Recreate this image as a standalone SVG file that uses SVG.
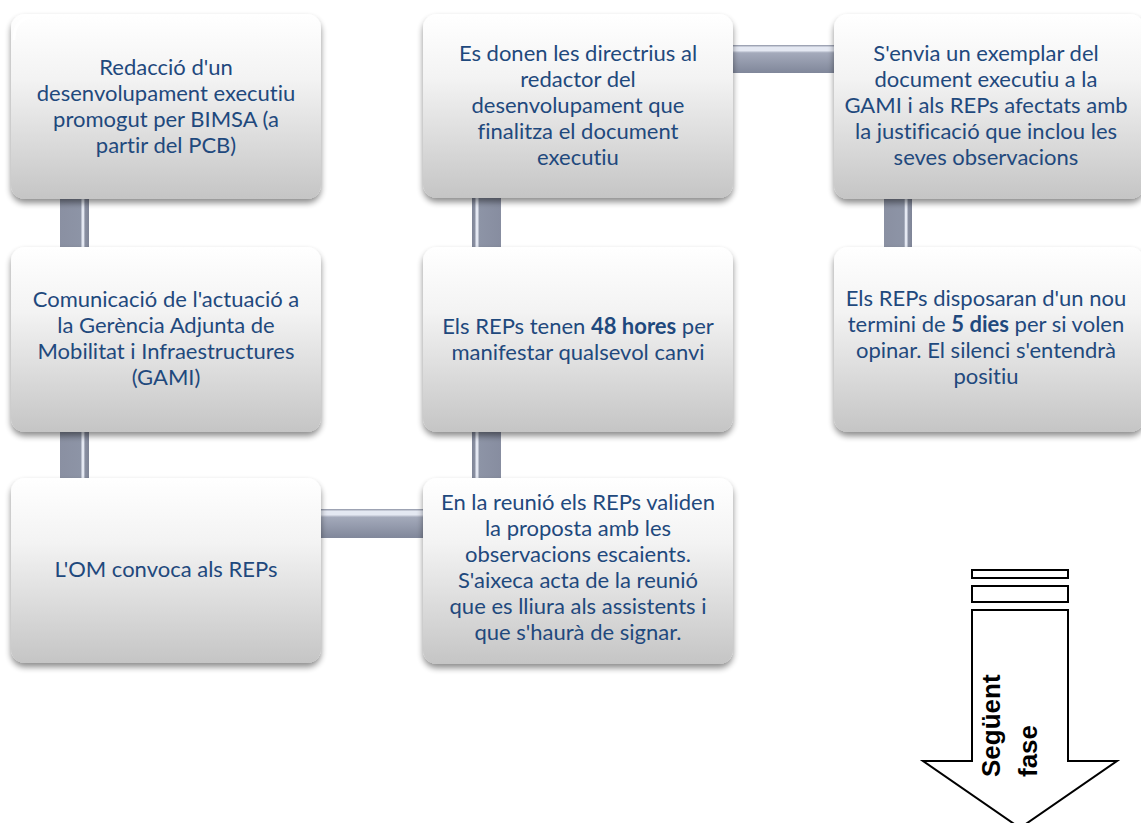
<svg xmlns="http://www.w3.org/2000/svg" width="1141" height="823" viewBox="0 0 1141 823">
<defs>
<linearGradient id="boxg" x1="0" y1="0" x2="0" y2="1">
<stop offset="0" stop-color="#ffffff"/>
<stop offset="0.35" stop-color="#f3f3f3"/>
<stop offset="1" stop-color="#c5c5c5"/>
</linearGradient>
<linearGradient id="vbarR" x1="0" y1="0" x2="1" y2="0">
<stop offset="0" stop-color="#8a90a2"/>
<stop offset="0.72" stop-color="#8d94a6"/>
<stop offset="0.76" stop-color="#e4e8f2"/>
<stop offset="0.82" stop-color="#e4e8f2"/>
<stop offset="0.86" stop-color="#8a90a2"/>
<stop offset="1" stop-color="#7e8496"/>
</linearGradient>
<linearGradient id="vbarL" x1="0" y1="0" x2="1" y2="0">
<stop offset="0" stop-color="#7e8496"/>
<stop offset="0.1" stop-color="#8a90a2"/>
<stop offset="0.14" stop-color="#e4e8f2"/>
<stop offset="0.2" stop-color="#e4e8f2"/>
<stop offset="0.25" stop-color="#8d94a6"/>
<stop offset="1" stop-color="#878da0"/>
</linearGradient>
<linearGradient id="hbar" x1="0" y1="0" x2="0" y2="1">
<stop offset="0" stop-color="#8a90a2"/>
<stop offset="0.08" stop-color="#e4e8f2"/>
<stop offset="0.2" stop-color="#e4e8f2"/>
<stop offset="0.28" stop-color="#a4aabb"/>
<stop offset="1" stop-color="#80879a"/>
</linearGradient>
<filter id="shadow" x="-10%" y="-10%" width="120%" height="130%">
<feGaussianBlur in="SourceAlpha" stdDeviation="3"/>
<feOffset dy="4" result="b"/>
<feComponentTransfer><feFuncA type="linear" slope="0.45"/></feComponentTransfer>
<feMerge><feMergeNode/><feMergeNode in="SourceGraphic"/></feMerge>
</filter>
</defs>
<style>
.box{fill:url(#boxg);filter:url(#shadow)}
.gloss{fill:none;stroke:#ffffff;stroke-width:3;opacity:0.9}
.t{font-family:Lato,"Noto Sans",sans-serif;font-size:22px;fill:#1f497d;text-anchor:middle;font-variant-ligatures:none}
.b{font-weight:bold}
.arrow{fill:#ffffff;stroke:#000000;stroke-width:2}
.at{font-family:"Liberation Sans",Arial,sans-serif;font-size:26px;font-weight:bold;fill:#000000}
</style>
<g id="connectors">
<rect x="60" y="190" width="29" height="66" fill="url(#vbarR)"/>
<rect x="60" y="425" width="29" height="60" fill="url(#vbarR)"/>
<rect x="300" y="509" width="140" height="29" fill="url(#hbar)"/>
<rect x="472" y="425" width="29" height="60" fill="url(#vbarL)"/>
<rect x="472" y="190" width="29" height="66" fill="url(#vbarL)"/>
<rect x="715" y="45" width="135" height="28" fill="url(#hbar)"/>
<rect x="884" y="190" width="28" height="66" fill="url(#vbarR)"/>
</g>
<g id="box1">
<rect class="box" x="11" y="14" width="310" height="185" rx="14"/>
<path class="gloss" d="M14,40 Q14,20 30,17" />
<text class="t"><tspan x="166" y="75">Redacció d'un</tspan><tspan x="166" y="101">desenvolupament executiu</tspan><tspan x="166" y="127">promogut per BIMSA (a</tspan><tspan x="166" y="153">partir del PCB)</tspan></text>
</g>
<g id="box2">
<rect class="box" x="423" y="14" width="310" height="184" rx="14"/>
<text class="t"><tspan x="578" y="61">Es donen les directrius al</tspan><tspan x="578" y="87">redactor del</tspan><tspan x="578" y="113">desenvolupament que</tspan><tspan x="578" y="139">finalitza el document</tspan><tspan x="578" y="165">executiu</tspan></text>
</g>
<g id="box3">
<rect class="box" x="834" y="14" width="310" height="185" rx="14"/>
<text class="t"><tspan x="986" y="61">S'envia un exemplar del</tspan><tspan x="986" y="87">document executiu a la</tspan><tspan x="986" y="113">GAMI i als REPs afectats amb</tspan><tspan x="986" y="139">la justificació que inclou les</tspan><tspan x="986" y="165">seves observacions</tspan></text>
</g>
<g id="box4">
<rect class="box" x="11" y="247" width="310" height="185" rx="14"/>
<text class="t"><tspan x="166" y="307">Comunicació de l'actuació a</tspan><tspan x="166" y="333">la Gerència Adjunta de</tspan><tspan x="166" y="359">Mobilitat i Infraestructures</tspan><tspan x="166" y="385">(GAMI)</tspan></text>
</g>
<g id="box5">
<rect class="box" x="423" y="247" width="310" height="185" rx="14"/>
<text class="t"><tspan x="578" y="334">Els REPs tenen <tspan class="b">48 hores</tspan> per</tspan><tspan x="578" y="360">manifestar qualsevol canvi</tspan></text>
</g>
<g id="box6">
<rect class="box" x="834" y="247" width="310" height="185" rx="14"/>
<text class="t"><tspan x="986" y="306">Els REPs disposaran d'un nou</tspan><tspan x="986" y="332">termini de <tspan class="b">5 dies</tspan> per si volen</tspan><tspan x="986" y="358">opinar. El silenci s'entendrà</tspan><tspan x="986" y="384">positiu</tspan></text>
</g>
<g id="box7">
<rect class="box" x="11" y="478" width="310" height="185" rx="14"/>
<text class="t" x="166" y="577">L'OM convoca als REPs</text>
</g>
<g id="box8">
<rect class="box" x="423" y="478" width="310" height="186" rx="14"/>
<text class="t"><tspan x="578" y="510">En la reunió els REPs validen</tspan><tspan x="578" y="536">la proposta amb les</tspan><tspan x="578" y="562">observacions escaients.</tspan><tspan x="578" y="588">S'aixeca acta de la reunió</tspan><tspan x="578" y="614">que es lliura als assistents i</tspan><tspan x="578" y="640">que s'haurà de signar.</tspan></text>
</g>
<g id="next-phase">
<rect class="arrow" x="972" y="570" width="96" height="8"/>
<rect class="arrow" x="972" y="586" width="96" height="16"/>
<path class="arrow" d="M972,610 L1068,610 L1068,761 L1117,761 L1020,828 L923,761 L972,761 Z"/>
<text class="at" transform="translate(1000,777) rotate(-90)">Següent</text>
<text class="at" transform="translate(1037,777) rotate(-90)">fase</text>
</g>
</svg>
